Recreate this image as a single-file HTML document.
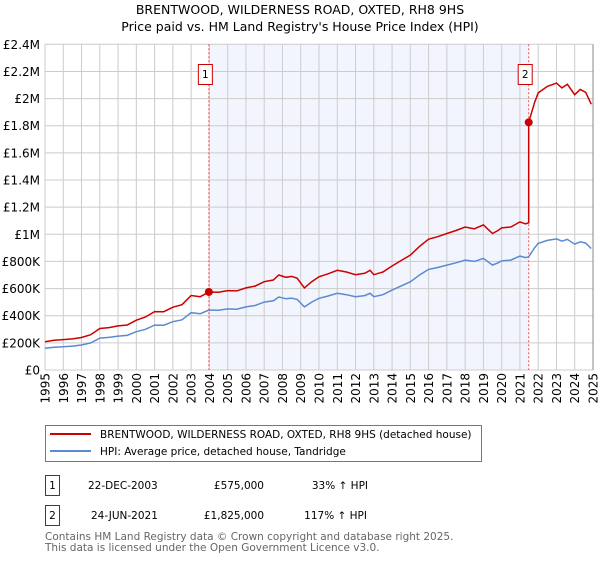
<!DOCTYPE html>
<html><head><meta charset="utf-8"><style>
body{margin:0;background:#fff;font-family:"DejaVu Sans","Liberation Sans",sans-serif;}
svg text{font-family:"DejaVu Sans","Liberation Sans",sans-serif;}
</style></head><body>
<svg id="chart" width="600" height="560" xmlns="http://www.w3.org/2000/svg">
<text x="300" y="14" font-size="12.5" text-anchor="middle" fill="#000">BRENTWOOD, WILDERNESS ROAD, OXTED, RH8 9HS</text>
<text x="300" y="31" font-size="12.5" text-anchor="middle" fill="#000">Price paid vs. HM Land Registry's House Price Index (HPI)</text>
<g id="plot"></g>
<g>
<rect x="45.5" y="425.5" width="436" height="36" fill="#fff" stroke="#777"/>
<line x1="50" y1="434" x2="91" y2="434" stroke="#cc0000" stroke-width="2"/>
<text x="100" y="438" font-size="10.5">BRENTWOOD, WILDERNESS ROAD, OXTED, RH8 9HS (detached house)</text>
<line x1="50" y1="451" x2="91" y2="451" stroke="#5b8ad0" stroke-width="2"/>
<text x="100" y="455" font-size="10.5">HPI: Average price, detached house, Tandridge</text>
</g>
<g font-size="10.5">
<rect x="45.5" y="475.5" width="14" height="20" fill="#fff" stroke="#cc0000"/>
<text x="52.5" y="489" text-anchor="middle">1</text>
<text x="88" y="489">22-DEC-2003</text>
<text x="264" y="489" text-anchor="end">£575,000</text>
<text x="368" y="489" text-anchor="end">33% ↑ HPI</text>
</g>
<g font-size="10.5">
<rect x="45.5" y="505.5" width="14" height="20" fill="#fff" stroke="#cc0000"/>
<text x="52.5" y="519" text-anchor="middle">2</text>
<text x="91" y="519">24-JUN-2021</text>
<text x="264" y="519" text-anchor="end">£1,825,000</text>
<text x="367" y="519" text-anchor="end">117% ↑ HPI</text>
</g>
<text x="45" y="540" font-size="10.5" fill="#666">Contains HM Land Registry data © Crown copyright and database right 2025.</text>
<text x="45" y="551" font-size="10.5" fill="#666">This data is licensed under the Open Government Licence v3.0.</text>
</svg>
<script>
const hpiYears=[1995,1995.5,1996,1996.5,1997,1997.5,1998,1998.5,1999,1999.5,2000,2000.5,2001,2001.5,2002,2002.5,2003,2003.5,2003.97,2004.5,2005,2005.5,2006,2006.5,2007,2007.5,2007.8,2008.2,2008.5,2008.8,2009.2,2009.6,2010,2010.5,2011,2011.5,2012,2012.5,2012.8,2013,2013.5,2014,2014.5,2015,2015.5,2016,2016.5,2017,2017.5,2018,2018.5,2019,2019.5,2019.8,2020,2020.5,2021,2021.3,2021.48,2021.8,2022,2022.5,2023,2023.3,2023.6,2024,2024.3,2024.6,2024.9];
const hpiValues=[160000,168000,172000,176000,184000,200000,235000,240000,250000,255000,282000,300000,331000,330000,356000,370000,422000,415000,442000,440000,450000,448000,465000,475000,500000,510000,538000,525000,530000,520000,465000,500000,528000,545000,565000,555000,540000,548000,565000,540000,555000,589000,620000,650000,700000,741000,755000,773000,790000,810000,800000,822000,773000,790000,805000,810000,839000,828000,834000,900000,933000,955000,966000,950000,962000,927000,945000,935000,895000];
const saleYears=[2003.97,2021.48];
const salePrices=[575000,1825000];
const yTicks=[0,200000,400000,600000,800000,1000000,1200000,1400000,1600000,1800000,2000000,2200000,2400000];
const yTickLabels=["£0","£200K","£400K","£600K","£800K","£1M","£1.2M","£1.4M","£1.6M","£1.8M","£2M","£2.2M","£2.4M"];
const xTicks=[1995,1996,1997,1998,1999,2000,2001,2002,2003,2004,2005,2006,2007,2008,2009,2010,2011,2012,2013,2014,2015,2016,2017,2018,2019,2020,2021,2022,2023,2024,2025];

const X0=45,X1=593,Y0=370,Y1=44.3;
const xs=y=>X0+(y-1995)/30*(X1-X0);
const ys=v=>Y0-v/2400000*(Y0-Y1);
const NS="http://www.w3.org/2000/svg";
const plot=document.getElementById('plot');
function mk(tag,attrs,parent){const e=document.createElementNS(NS,tag);for(const k in attrs)e.setAttribute(k,attrs[k]);(parent||plot).appendChild(e);return e;}
function hpiAt(t){for(let i=0;i<hpiYears.length-1;i++){if(t<=hpiYears[i+1]){const f=(t-hpiYears[i])/(hpiYears[i+1]-hpiYears[i]);return hpiValues[i]+f*(hpiValues[i+1]-hpiValues[i]);}}return hpiValues[hpiValues.length-1];}

const bg=mk('rect',{x:X0,y:Y1,width:X1-X0,height:Y0-Y1,fill:'#fff'});


const shade=mk('rect',{x:xs(saleYears[0]),y:Y1,width:xs(saleYears[1])-xs(saleYears[0]),height:Y0-Y1,fill:'#eef2fc',opacity:0.75});


yTicks.forEach((v,i)=>{
  const l=mk('line',{x1:X0,x2:X1,y1:ys(v),y2:ys(v),stroke:'#cccccc','stroke-width':1});
  
  
  const t=mk('text',{x:40,y:ys(v)+4.5,'font-size':12,'text-anchor':'end',fill:'#000'});
  t.textContent=yTickLabels[i];
  
  
});
xTicks.forEach(yr=>{
  const l=mk('line',{x1:xs(yr),x2:xs(yr),y1:Y1,y2:Y0,stroke:'#cccccc','stroke-width':1});
  
  
  const t=mk('text',{x:0,y:0,'font-size':12,'text-anchor':'end',fill:'#000',transform:`translate(${xs(yr)+4.5},373) rotate(-90)`});
  t.textContent=String(yr);
  
  
});
const rb=mk('line',{x1:X1,x2:X1,y1:Y1,y2:Y0,stroke:'#888','stroke-width':1});



saleYears.forEach((sy,i)=>{
  const l=mk('line',{x1:xs(sy),x2:xs(sy),y1:Y1,y2:Y0,stroke:'#ee5555','stroke-width':1,'stroke-dasharray':'2,2'});
  
  
});

const hp=mk('path',{d:hpiYears.map((y,i)=>(i?'L':'M')+xs(y).toFixed(1)+','+ys(hpiValues[i]).toFixed(1)).join(''),fill:'none',stroke:'#5b8ad0','stroke-width':1.5});



let d='';
let jumped=false;
hpiYears.forEach((y,i)=>{
  let k=0;
  for(let j=0;j<saleYears.length;j++) if(y>saleYears[j]+1e-6) k=j;
  if(k>=1&&!jumped){
    const prev=salePrices[0]*hpiAt(saleYears[1])/hpiAt(saleYears[0]);
    d+='L'+xs(saleYears[1]).toFixed(1)+','+ys(prev).toFixed(1)+'L'+xs(saleYears[1]).toFixed(1)+','+ys(salePrices[1]).toFixed(1);
    jumped=true;
  }
  const v=salePrices[k]*hpiValues[i]/hpiAt(saleYears[k]);
  d+=(d?'L':'M')+xs(y).toFixed(1)+','+ys(v).toFixed(1);
});
const pp=mk('path',{d:d,fill:'none',stroke:'#cc0000','stroke-width':1.5});



saleYears.forEach((sy,i)=>{
  const c=mk('circle',{cx:xs(sy),cy:ys(salePrices[i]),r:4,fill:'#cc0000'});
  
  
  const b=mk('rect',{x:xs(sy)-10.5,y:64.5,width:14,height:20,fill:'#fff',stroke:'#cc0000'});
  
  
  const t=mk('text',{x:xs(sy)-3.5,y:78,'font-size':10.5,'text-anchor':'middle',fill:'#000'});
  t.textContent=String(i+1);
  
  
});
</script>
</body></html>
